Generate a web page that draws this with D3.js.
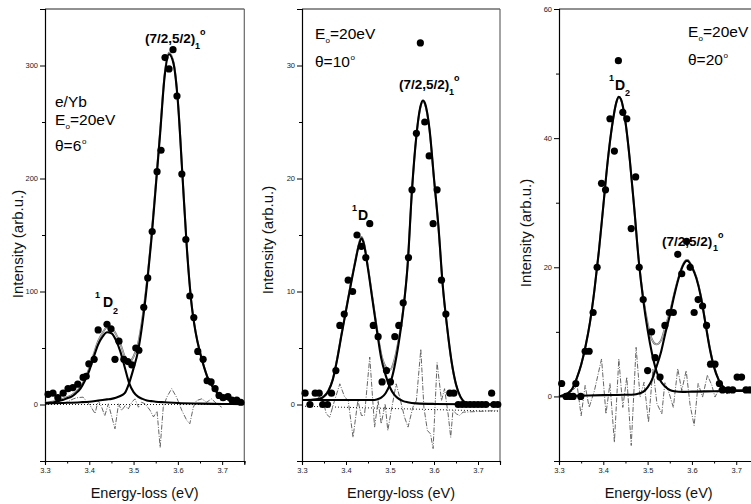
<!DOCTYPE html>
<html><head><meta charset="utf-8">
<script src="https://cdn.jsdelivr.net/npm/d3@7"></script>
<style>
body{margin:0;background:#fff}
svg{display:block}
text{font-family:"Liberation Sans",Arial,Helvetica,sans-serif}
</style>
</head><body>
<svg id="chart" width="751" height="504"></svg>
<script>
// ---------- shared axis data ----------
const xDomain = [3.3, 3.75];
const xTicks = [3.3, 3.4, 3.5, 3.6, 3.7];
const xMinorTicks = [3.35, 3.45, 3.55, 3.65, 3.75];
const xTitle = "Energy-loss (eV)";
const yTitle = "Intensity (arb.u.)";

// ---------- panel 1 : theta = 6 deg ----------
const p1YDomain = [-50, 350];
const p1YTicks = [0, 100, 200, 300];
const p1YMinor = [-50, 50, 150, 250, 350];
const p1Points = [[3.307,9],[3.318,10],[3.329,6],[3.341,10],[3.352,14],[3.363,15],[3.374,18],[3.386,24],[3.393,25],[3.399,36],[3.411,40],[3.420,66],[3.440,71],[3.449,67],[3.458,40],[3.467,56],[3.478,40],[3.487,38],[3.496,35],[3.505,50],[3.512,48],[3.523,86],[3.532,112],[3.542,153],[3.553,206],[3.562,225],[3.571,307],[3.580,297],[3.589,314],[3.598,273],[3.609,204],[3.618,146],[3.627,96],[3.636,77],[3.645,47],[3.657,40],[3.666,21],[3.675,20],[3.684,14],[3.693,8],[3.702,6],[3.713,7],[3.722,4],[3.733,4],[3.742,2]];
const p1FitD2 = [[3.30,1],[3.31,1.5],[3.32,2],[3.33,3],[3.34,4],[3.35,5.5],[3.36,7],[3.37,10],[3.38,14],[3.39,21],[3.40,30],[3.41,42],[3.42,53],[3.43,60],[3.44,64],[3.45,63],[3.46,57],[3.47,47],[3.48,33],[3.49,19],[3.50,11],[3.51,7],[3.52,5],[3.53,3.5],[3.54,3],[3.55,2.5],[3.57,2],[3.60,1.3],[3.65,0.8],[3.70,0.5],[3.75,0.3]];
const p1FitJ = [[3.30,1],[3.35,1.5],[3.38,2],[3.40,2.5],[3.42,3.5],[3.44,4.5],[3.45,5],[3.46,6],[3.47,7.5],[3.48,10],[3.49,19],[3.50,32],[3.51,47],[3.52,72],[3.53,105],[3.54,145],[3.55,192],[3.56,240],[3.57,290],[3.58,310],[3.59,302],[3.60,268],[3.61,205],[3.62,140],[3.63,92],[3.64,64],[3.65,46],[3.66,32],[3.67,21],[3.68,15],[3.69,10],[3.70,7],[3.71,5],[3.72,3.5],[3.73,2.5],[3.74,2],[3.75,1.5]];
const p1Baseline = [[3.30,0.5],[3.75,0.5]];
const p1Residual = [[3.34,1],[3.349,2],[3.364,5],[3.372,6],[3.386,6.5],[3.402,-1],[3.413,-8],[3.420,3.5],[3.428,-2.4],[3.435,-10],[3.443,0.6],[3.458,-21.5],[3.466,0.6],[3.473,-5.3],[3.481,-1],[3.488,-4],[3.496,2],[3.503,5],[3.511,-2.4],[3.518,2],[3.526,0.6],[3.537,-5],[3.545,-11],[3.553,-6],[3.560,-38],[3.567,-2.4],[3.575,6.5],[3.586,14],[3.597,6.5],[3.609,-5.3],[3.620,-14],[3.627,-17],[3.635,-2.4],[3.642,3.5],[3.654,5],[3.665,2],[3.676,5],[3.688,0.6],[3.699,-2.4]];
const p1Zero = [[3.30,0],[3.75,0]];

// ---------- panel 2 : theta = 10 deg ----------
const p2YDomain = [-5, 35];
const p2YTicks = [0, 10, 20, 30];
const p2YMinor = [-5, 5, 15, 25, 35];
const p2Points = [[3.307,1],[3.318,0],[3.330,1],[3.339,1],[3.347,0],[3.358,0],[3.367,1],[3.377,3],[3.386,7],[3.396,8],[3.405,11],[3.415,10],[3.425,15],[3.435,14],[3.445,13],[3.454,16],[3.462,7],[3.473,6],[3.482,2],[3.492,3],[3.501,2],[3.511,6],[3.520,7],[3.530,9],[3.542,13],[3.550,19],[3.560,24],[3.569,32],[3.579,25],[3.589,22],[3.598,16],[3.607,19],[3.617,11],[3.627,8],[3.636,1],[3.645,1],[3.655,0],[3.664,0],[3.673,0],[3.682,0],[3.691,0],[3.700,0],[3.709,0],[3.718,0],[3.731,1],[3.736,0],[3.745,0]];
const p2FitD = [[3.30,0.4],[3.32,0.4],[3.34,0.5],[3.35,0.7],[3.36,1.2],[3.37,2.2],[3.38,4.0],[3.39,6.2],[3.40,8.3],[3.41,10.4],[3.42,12.4],[3.43,14.2],[3.435,14.7],[3.44,14.3],[3.45,12.0],[3.46,9.3],[3.47,6.6],[3.48,4.1],[3.49,2.6],[3.50,1.5],[3.51,0.85],[3.52,0.5],[3.53,0.3],[3.54,0.2],[3.56,0.1],[3.60,0.05],[3.75,0]];
const p2FitJ = [[3.30,0.4],[3.46,0.4],[3.47,0.45],[3.48,0.6],[3.49,1.0],[3.50,1.8],[3.51,3.3],[3.52,5.5],[3.53,8.3],[3.54,12.3],[3.55,19],[3.56,23.8],[3.57,26.5],[3.575,26.9],[3.58,26.6],[3.59,24.3],[3.60,20],[3.61,15.8],[3.62,10.5],[3.63,6.8],[3.64,3.8],[3.65,1.8],[3.66,0.7],[3.67,0.2],[3.68,0.05],[3.70,0],[3.75,0]];
const p2Baseline = [[3.30,0.4],[3.75,0]];
const p2Residual = [[3.335,0.5],[3.345,0.9],[3.355,-0.83],[3.363,-1.12],[3.374,0.35],[3.386,1.83],[3.397,0.65],[3.405,0.35],[3.416,-2.9],[3.427,0.35],[3.435,-0.97],[3.442,-0.97],[3.454,4.2],[3.465,-2.0],[3.473,0.35],[3.480,-1.7],[3.489,0.06],[3.495,-2.3],[3.503,-0.53],[3.514,1.83],[3.522,0.65],[3.533,-1.12],[3.541,-2.0],[3.552,-0.24],[3.560,0.35],[3.570,4.9],[3.577,-0.24],[3.585,-2.3],[3.592,-2.6],[3.598,-3.9],[3.607,3.7],[3.617,0.35],[3.624,1.4],[3.632,-0.83],[3.638,-2.9],[3.643,-0.53],[3.651,-0.83],[3.658,-0.97],[3.666,-0.68],[3.745,-0.53]];
const p2Zero = [[3.30,-0.15],[3.75,-0.6]];

// ---------- panel 3 : theta = 20 deg ----------
const p3YDomain = [-10, 60];
const p3YTicks = [0, 20, 40, 60];
const p3YMinor = [-10, 10, 30, 50];
const p3Points = [[3.306,2],[3.316,0],[3.325,0],[3.332,0],[3.338,2],[3.349,0],[3.359,7],[3.368,7],[3.377,13],[3.386,20],[3.396,33],[3.405,32],[3.415,43],[3.425,38],[3.434,52],[3.444,44],[3.453,43],[3.463,26],[3.473,34],[3.481,20],[3.490,15],[3.500,4],[3.509,10],[3.517,6],[3.528,3],[3.539,11],[3.549,13],[3.558,13],[3.568,22],[3.577,19],[3.588,24],[3.596,20],[3.605,13],[3.614,15],[3.624,14],[3.633,11],[3.642,5],[3.652,5],[3.662,2],[3.669,1],[3.682,1],[3.692,1],[3.702,3],[3.712,3],[3.722,1],[3.731,1],[3.740,1],[3.750,1]];
const p3FitD2 = [[3.30,0],[3.31,0.2],[3.32,0.5],[3.33,1.2],[3.34,2.8],[3.35,4.9],[3.36,7.8],[3.37,11.5],[3.38,16.5],[3.39,22.5],[3.40,29.5],[3.41,36.5],[3.42,42],[3.43,45.7],[3.435,46.4],[3.44,46],[3.45,42.5],[3.46,36.5],[3.47,29],[3.48,21],[3.49,15],[3.50,10.3],[3.51,6.6],[3.52,3.9],[3.53,2.3],[3.54,1.5],[3.55,1.0],[3.56,0.8],[3.58,0.7],[3.60,0.75],[3.65,0.8],[3.70,0.85],[3.75,0.9]];
const p3FitJ = [[3.30,0],[3.35,0.1],[3.40,0.2],[3.45,0.25],[3.47,0.3],[3.48,0.45],[3.49,0.7],[3.50,1.4],[3.51,2.6],[3.52,4.6],[3.53,6.8],[3.54,9.8],[3.55,12.5],[3.56,15.6],[3.57,18.3],[3.58,20.3],[3.588,21],[3.59,21],[3.60,20],[3.61,18.3],[3.62,15.5],[3.63,11.5],[3.64,7.5],[3.65,4.5],[3.66,2.6],[3.67,1.5],[3.68,1.1],[3.69,0.95],[3.70,0.9],[3.75,0.95]];
const p3Baseline = [[3.30,0],[3.75,0.9]];
const p3Residual = [[3.318,0],[3.332,1],[3.341,1.7],[3.350,-3.0],[3.359,1.7],[3.368,-1.7],[3.380,0.9],[3.396,5.8],[3.406,-2.7],[3.415,2],[3.425,-7.1],[3.435,5.8],[3.444,-1.7],[3.453,3.0],[3.463,-7.6],[3.474,7.6],[3.483,-0.1],[3.492,2.2],[3.502,-4.0],[3.512,4.3],[3.521,-1.1],[3.532,-2.7],[3.539,2.2],[3.549,0.4],[3.558,-1.7],[3.568,4.3],[3.577,0.9],[3.587,4.0],[3.596,-1.4],[3.605,-4.5],[3.614,2.0],[3.624,-0.1],[3.635,3.3],[3.645,1.7],[3.652,-0.1],[3.663,1.4],[3.679,0.4],[3.693,0.9]];

// ---------- layout ----------
const svg = d3.select("#chart");
svg.append("rect").attr("width",751).attr("height",504).attr("fill","#fff");
const plotTop = 9, plotBottom = 461;

const panels = [
  {x0:45, x1:244.3, yDomain:p1YDomain, yTicks:p1YTicks, yMinor:p1YMinor, points:p1Points, fitA:p1FitD2, fitB:p1FitJ, base:p1Baseline, resid:p1Residual, zero:p1Zero, yTitleX:23, yTitleY:244},
  {x0:302, x1:500, yDomain:p2YDomain, yTicks:p2YTicks, yMinor:p2YMinor, points:p2Points, fitA:p2FitD, fitB:p2FitJ, base:p2Baseline, resid:p2Residual, zero:p2Zero, yTitleX:273, yTitleY:240},
  {x0:559, x1:758.4, yDomain:p3YDomain, yTicks:p3YTicks, yMinor:p3YMinor, points:p3Points, fitA:p3FitD2, fitB:p3FitJ, base:p3Baseline, resid:p3Residual, zero:null, yTitleX:531, yTitleY:233}
];

function interp(arr, xv){
  for(let i=0;i<arr.length-1;i++){
    if(xv>=arr[i][0] && xv<=arr[i+1][0]){
      const t=(xv-arr[i][0])/(arr[i+1][0]-arr[i][0]);
      return arr[i][1]+t*(arr[i+1][1]-arr[i][1]);
    }
  }
  return xv<arr[0][0]?arr[0][1]:arr[arr.length-1][1];
}

panels.forEach((p,i)=>{
  const x = d3.scaleLinear().domain(xDomain).range([p.x0,p.x1]);
  const y = d3.scaleLinear().domain(p.yDomain).range([plotBottom,plotTop]);
  const g = svg.append("g");

  // frame top/right
  g.append("line").attr("x1",p.x0).attr("x2",p.x1).attr("y1",plotTop).attr("y2",plotTop).attr("stroke","#222").attr("stroke-width",1);
  g.append("line").attr("x1",p.x1).attr("x2",p.x1).attr("y1",plotTop).attr("y2",plotBottom).attr("stroke","#666").attr("stroke-width",1.2);

  // axes
  g.append("g").attr("transform",`translate(0,${plotBottom})`)
    .call(d3.axisBottom(x).tickValues(xTicks).tickSize(4).tickPadding(3).tickFormat(d3.format(".1f")));
  g.append("g").attr("transform",`translate(0,${plotBottom})`)
    .call(d3.axisBottom(x).tickValues(xMinorTicks).tickSize(2.5).tickFormat(""));
  g.append("g").attr("transform",`translate(${p.x0},0)`)
    .call(d3.axisLeft(y).tickValues(p.yTicks).tickSize(5).tickPadding(2));
  g.append("g").attr("transform",`translate(${p.x0},0)`)
    .call(d3.axisLeft(y).tickValues(p.yMinor).tickSize(3).tickFormat(""));
  g.selectAll(".domain").attr("stroke","#000").attr("stroke-width",1.1);
  g.selectAll(".tick line").attr("stroke","#000");
  g.selectAll(".tick text").attr("font-size","7.5px").attr("fill","#222")
    .attr("font-family","'Liberation Sans',Arial,sans-serif");

  // titles
  g.append("text").attr("x",(p.x0+p.x1)/2).attr("y",498).attr("text-anchor","middle")
    .attr("font-size","14.5px").attr("fill","#111").text(xTitle);
  g.append("text").attr("transform",`translate(${p.yTitleX},${p.yTitleY}) rotate(-90)`)
    .attr("text-anchor","middle").attr("font-size","15px").attr("fill","#111").text(yTitle);

  // zero dotted line
  if(p.zero){
    g.append("path").datum(p.zero).attr("fill","none").attr("stroke","#000").attr("stroke-width",0.9)
      .attr("stroke-dasharray","1,2")
      .attr("d",d3.line().x(d=>x(d[0])).y(d=>y(d[1])));
  }

  // residual
  g.append("path").datum(p.resid).attr("fill","none").attr("stroke","#555").attr("stroke-width",0.9)
    .attr("stroke-dasharray","5,1.5,1,1.5")
    .attr("d",d3.line().x(d=>x(d[0])).y(d=>y(d[1])));

  // total fit (sum of components), drawn as a thin hollow line
  const xs = Array.from(new Set(p.fitA.map(d=>d[0]).concat(p.fitB.map(d=>d[0])))).sort((a,b)=>a-b);
  const sum = xs.map(v=>[v, interp(p.fitA,v)+interp(p.fitB,v)-interp(p.base,v)]);
  const curve = d3.line().x(d=>x(d[0])).y(d=>y(d[1])).curve(d3.curveMonotoneX);
  g.append("path").datum(sum).attr("fill","none").attr("stroke","#666").attr("stroke-width",1.9).attr("d",curve);
  g.append("path").datum(sum).attr("fill","none").attr("stroke","#fff").attr("stroke-width",0.6).attr("d",curve);

  // component fits
  [p.fitA,p.fitB].forEach(f=>{
    g.append("path").datum(f).attr("fill","none").attr("stroke","#000").attr("stroke-width",2.1)
      .attr("stroke-linejoin","round").attr("d",curve);
  });
});

// ---------- annotations ----------
function label(parts){
  parts.forEach(t=>{
    svg.append("text").attr("x",t[1]).attr("y",t[2]).attr("font-size",t[3]+"px")
      .attr("font-weight",t[4]?"bold":"normal").attr("fill","#000").text(t[0]);
  });
}
// panel 1
label([["(7/2,5/2)",145,42.5,13.5,1],["1",195,49,9,1],["o",200,35,9,1]]);
label([["e/Yb",55,107,15.5,0],["E",55,125,15.5,0],["o",65.5,129,8,0],["=20eV",70,125,15.5,0],
       ["θ=6",55,151,15.5,0],["o",82,144,8,0]]);
label([["1",95,298,9,1],["D",103,307,14,1],["2",113,314,9,1]]);
// panel 2
label([["E",315,39,15.5,0],["o",325.5,43,8,0],["=20eV",330,39,15.5,0],["θ=10",315,67,15.5,0],["o",350.5,60,8,0]]);
label([["(7/2,5/2)",399,89,13.5,1],["1",449,95,9,1],["o",454,81,9,1]]);
label([["1",352,211,9,1],["D",358,220,14,1],["2",367,226,9,1]]);
// panel 3
label([["E",688,37,15.5,0],["o",698.5,41,8,0],["=20eV",703,37,15.5,0],["θ=20",688,65,15.5,0],["o",723.5,58,8,0]]);
label([["1",609,81,9,1],["D",615,90,14,1],["2",625,96,9,1]]);
label([["(7/2,5/2)",662,245.5,13.5,1],["1",713,251,9,1],["o",718,238,9,1]]);

// ---------- data points (drawn last) ----------
panels.forEach(p=>{
  const x = d3.scaleLinear().domain(xDomain).range([p.x0,p.x1]);
  const y = d3.scaleLinear().domain(p.yDomain).range([plotBottom,plotTop]);
  svg.append("g").selectAll("circle").data(p.points).join("circle")
    .attr("cx",d=>x(d[0])).attr("cy",d=>y(d[1])).attr("r",3.6).attr("fill","#000");
});
</script>
</body></html>
